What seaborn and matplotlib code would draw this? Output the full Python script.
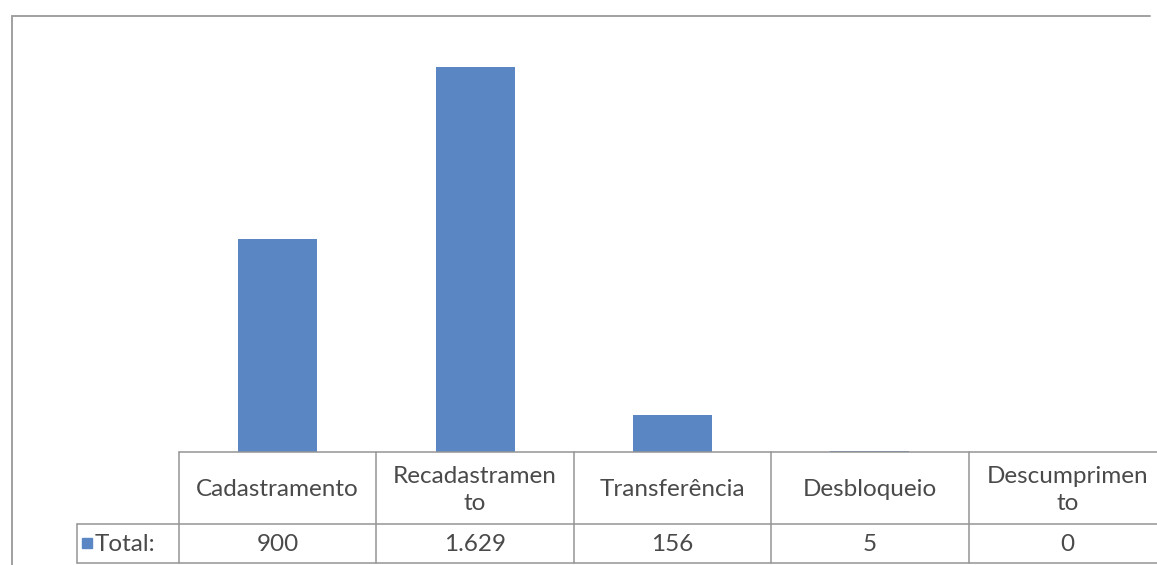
import matplotlib
matplotlib.use("Agg")
import matplotlib.pyplot as plt
import seaborn as sns
import pandas as pd
from matplotlib.lines import Line2D
from matplotlib.patches import Rectangle

categories = ["Cadastramento", "Recadastramento", "Transferência", "Desbloqueio", "Descumprimento"]
header_labels = ["Cadastramento", "Recadastramen\nto", "Transferência", "Desbloqueio", "Descumprimen\nto"]
values = [900, 1629, 156, 5, 0]
value_labels = ["900", "1.629", "156", "5", "0"]
series_name = "Total:"

sns.set_theme(style="white")
plt.rcParams["font.family"] = ["Lato", "DejaVu Sans"]

W, H = 1157, 565
fig = plt.figure(figsize=(W / 100, H / 100), dpi=100)
fig.patch.set_facecolor("white")

bar_color = "#5a87c3"
line_color = "#959595"
text_color = "#4a4a4a"

# geometry in pixels
tab_left = 179
col_w = 197.4
plot_top = 15
header_top = 452
row_mid = 524
tab_bottom = 563
leg_left = 77

ax = fig.add_axes([tab_left / W, (H - header_top) / H, 5 * col_w / W, (header_top - plot_top) / H])
df = pd.DataFrame({"cat": categories, "val": values})
sns.barplot(data=df, x="cat", y="val", color=bar_color, width=0.4, saturation=1, ax=ax, edgecolor="none")
ax.set_xlim(-0.5, 4.5)
ax.set_ylim(0, 1849)
ax.axis("off")

# overlay axes in pixel coordinates for frame and data table
ov = fig.add_axes([0, 0, 1, 1], zorder=5)
ov.set_xlim(0, W)
ov.set_ylim(H, 0)
ov.axis("off")
ov.patch.set_alpha(0)

def hline(y, x0, x1, c=line_color, lw=1.1):
    ov.add_line(Line2D([x0, x1], [y, y], color=c, lw=lw))

def vline(x, y0, y1, c=line_color, lw=1.1):
    ov.add_line(Line2D([x, x], [y0, y1], color=c, lw=lw))

# outer chart frame (partially visible)
hline(16, 12, 1150, c="#a0a0a0", lw=1.4)
vline(12, 16, 565, c="#a0a0a0", lw=1.4)

# table grid
hline(header_top, tab_left, W)
hline(row_mid, leg_left, W)
hline(tab_bottom, leg_left, W)
vline(leg_left, row_mid, tab_bottom)
for i in range(len(categories)):
    vline(tab_left + i * col_w, header_top, tab_bottom)

fs = 17.5
for i, (lab, vl) in enumerate(zip(header_labels, value_labels)):
    cx = tab_left + (i + 0.5) * col_w
    ov.text(cx, (header_top + row_mid) / 2 + 2, lab, ha="center", va="center",
            fontsize=fs, color=text_color, linespacing=1.35)
    ov.text(cx, (row_mid + tab_bottom) / 2 + 1, vl, ha="center", va="center",
            fontsize=fs, color=text_color)

# legend key cell
ov.add_patch(Rectangle((82, 538), 10, 10, color=bar_color))
ov.text(95, (row_mid + tab_bottom) / 2 + 1, series_name, ha="left", va="center",
        fontsize=fs, color=text_color)

fig.savefig("out.png", dpi=100)
